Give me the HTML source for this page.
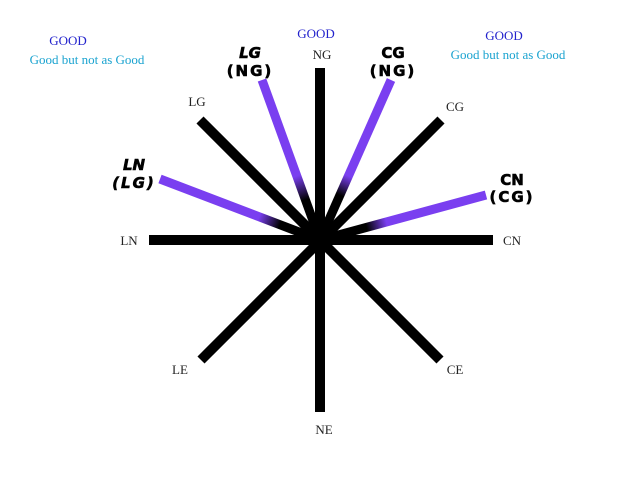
<!DOCTYPE html>
<html><head><style>body{margin:0;background:#fff}svg{display:block}</style></head><body>
<svg width="640" height="480" xmlns="http://www.w3.org/2000/svg">
<defs>
<linearGradient id="g1" gradientUnits="userSpaceOnUse" x1="262" y1="80" x2="320" y2="240"><stop offset="0.6" stop-color="#7a3ff0"/><stop offset="0.75" stop-color="#000"/></linearGradient>
<linearGradient id="g2" gradientUnits="userSpaceOnUse" x1="391" y1="80" x2="320" y2="240"><stop offset="0.6" stop-color="#7a3ff0"/><stop offset="0.72" stop-color="#000"/></linearGradient>
<linearGradient id="g3" gradientUnits="userSpaceOnUse" x1="160" y1="179" x2="320" y2="240"><stop offset="0.62" stop-color="#7a3ff0"/><stop offset="0.75" stop-color="#000"/></linearGradient>
<linearGradient id="g4" gradientUnits="userSpaceOnUse" x1="486" y1="195" x2="320" y2="240"><stop offset="0.6" stop-color="#7a3ff0"/><stop offset="0.72" stop-color="#000"/></linearGradient>
</defs>
<g stroke="#000" stroke-width="10">
<line x1="320" y1="68" x2="320" y2="412"/>
<line x1="149" y1="240" x2="493" y2="240"/>
<line x1="200" y1="120" x2="440" y2="360"/>
<line x1="441" y1="120" x2="201" y2="360"/>
</g>
<g stroke-width="9">
<line x1="262" y1="80" x2="320" y2="240" stroke="url(#g1)"/>
<line x1="391" y1="80" x2="320" y2="240" stroke="url(#g2)"/>
<line x1="160" y1="179" x2="320" y2="240" stroke="url(#g3)"/>
<line x1="486" y1="195" x2="320" y2="240" stroke="url(#g4)"/>
</g>
<g font-family="Liberation Serif, serif" font-size="13" fill="#222" text-anchor="middle">
<text x="322" y="59">NG</text><text x="197" y="106">LG</text><text x="455" y="111">CG</text>
<text x="129" y="245">LN</text><text x="512" y="245">CN</text>
<text x="180" y="374">LE</text><text x="455" y="374">CE</text><text x="324" y="434">NE</text>
</g>
<g font-family="Liberation Serif, serif" font-size="13" text-anchor="middle">
<text x="68" y="45" fill="#2222cc">GOOD</text><text x="87" y="64" fill="#1aa3d0">Good but not as Good</text>
<text x="316" y="38" fill="#2222cc">GOOD</text>
<text x="504" y="40" fill="#2222cc">GOOD</text><text x="508" y="59" fill="#1aa3d0">Good but not as Good</text>
</g>
<g font-family="DejaVu Sans, sans-serif" font-size="15" font-weight="bold" text-anchor="middle" fill="#000" stroke="#000" stroke-width="0.6">
<text x="250" y="58" font-style="italic">LG</text><text x="250" y="76" letter-spacing="2">(NG)</text>
<text x="393" y="58">CG</text><text x="393" y="76" letter-spacing="2">(NG)</text>
<text x="134" y="170" font-style="italic">LN</text><text x="134" y="188" letter-spacing="2" font-style="italic">(LG)</text>
<text x="512" y="185">CN</text><text x="512" y="202" letter-spacing="2">(CG)</text>
</g>
</svg>
</body></html>
